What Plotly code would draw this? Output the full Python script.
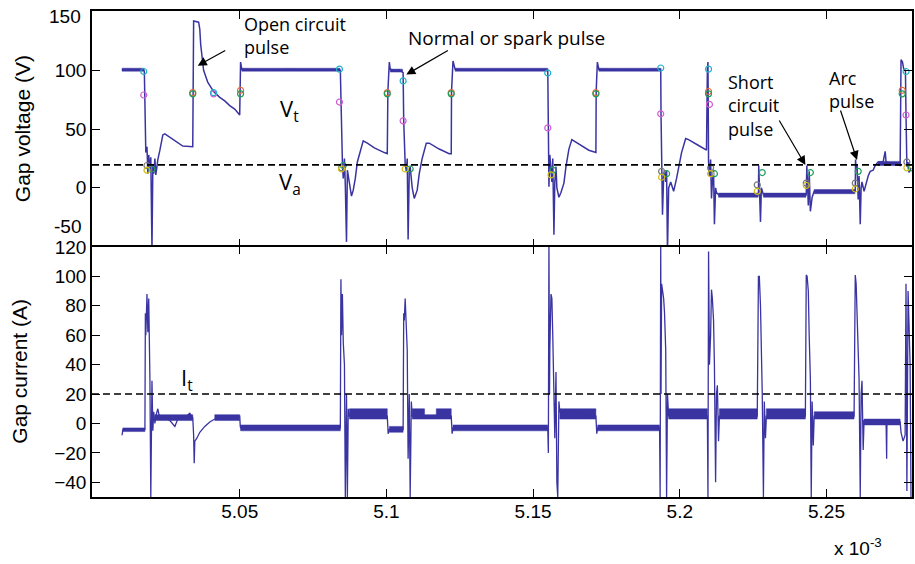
import plotly.graph_objects as go
from plotly.subplots import make_subplots

# time axis in units of 1e-3 s; samples stored as microseconds after 5.000 ms
T0_MS = 5.0

# ---------------- gap voltage (V) ----------------
v_t_us = [9.9, 12.6, 15.3, 17.3, 17.5, 17.7, 18.0, 18.4, 18.7, 19.0, 19.4, 19.7, 20.1, 20.4, 20.7, 21.1,
          21.4, 21.8, 22.1, 22.8, 23.8, 24.5, 26.2, 27.9, 29.6, 30.6, 34.0, 34.2, 34.3, 36.0, 36.4, 36.7,
          37.1, 37.4, 37.7, 38.4, 39.1, 40.1, 41.1, 43.2, 44.9, 46.6, 48.3, 50.0, 50.2, 50.3, 50.7, 53.4,
          60.2, 67.0, 73.8, 80.6, 84.0, 84.3, 84.5, 84.7, 85.0, 85.3, 85.7, 86.0, 86.4, 86.7, 87.0, 87.4,
          88.1, 88.7, 89.4, 90.1, 91.1, 92.1, 93.5, 95.9, 99.3, 100.3, 100.5, 101.0, 101.3, 102.7, 104.4,
          105.4, 105.7, 105.9, 106.1, 106.4, 106.8, 107.1, 107.4, 107.8, 108.1, 108.5, 108.8, 109.5, 110.5,
          111.2, 112.2, 113.6, 114.6, 118.0, 121.4, 122.1, 122.2, 122.7, 123.4, 128.2, 138.4, 148.6, 155.0,
          155.2, 155.4, 155.7, 156.1, 156.4, 156.7, 157.1, 157.4, 157.8, 158.1, 158.8, 159.5, 160.5, 161.2,
          162.2, 163.2, 165.6, 169.0, 171.4, 171.5, 171.9, 172.4, 179.2, 186.0, 193.1, 193.5, 193.6, 193.8,
          194.1, 194.5, 194.8, 195.2, 195.5, 195.8, 196.2, 196.9, 197.9, 198.9, 199.6, 200.6, 202.0, 203.0,
          206.4, 209.1, 209.4, 209.6, 209.8, 210.1, 210.5, 210.8, 211.1, 211.5, 211.8, 212.2, 212.5, 213.2,
          220.0, 226.8, 226.9, 227.1, 227.5, 227.8, 228.5, 235.3, 243.1, 243.3, 243.4, 243.8, 244.1, 244.5,
          245.1, 245.8, 252.3, 259.8, 259.9, 260.1, 260.4, 260.8, 261.1, 261.5, 261.8, 262.1, 262.8, 263.5,
          264.2, 264.9, 265.9, 266.6, 267.6, 269.3, 270.0, 270.3, 273.4, 275.1, 275.4, 275.9, 276.4, 276.9,
          277.1, 277.4, 277.8, 278.1, 278.8]
v_volt = [100.5, 100.8, 100.3, 100.5, 99, 78, 30, 35, 12, 28, 14, 26, -52, 20, 12, 25,
          11, 18, 24, 32, 45, 46, 43, 40, 37.5, 35.5, 35, 82, 142, 141, 135, 122,
          112, 106, 100, 95, 90, 86, 82, 77, 74, 70, 67, 62, 82, 107, 101, 100.5,
          100, 100.8, 100.2, 100.5, 100.5, 100, 72, 30, 22, 8, 25, 2, -46, 15, 10, 4,
          -7, -2, 8, 22, 31, 40, 38, 34, 30, 29, 82, 107, 101, 100, 100.5,
          98, 98, 57, 30, 20, 14, 25, -44, 15, 18, 8, 0, -9, -2,
          12, 25, 38, 38, 33, 29, 29, 82, 108, 101, 100, 100.5, 100, 100,
          51, 1, 28, 18, 5, 25, -40, 5, 18, 0, -8, -4, 4, 18,
          33, 41, 37, 32, 30, 82, 107, 101, 100, 100.5, 101, 101, 63, 20,
          -23, 10, 15, 5, 15, -55, 0, 5, -3, 8, 18, 30, 42, 41,
          36, 32, 101, 107, 22, 10, 24, -9, 5, 15, -31, 0, -4, -6,
          -6, -6, 19, 5, -29, 0, -6, -6, -6, 19, 5, -15, 14, -20,
          -8, -3, -3, -3, 24, 15, 20, -10, 10, -31, 0, 5, -3, 4,
          10, 14, 15, 19, 22, 22, 31, 22, 20, 19, 109, 107, 100, 100,
          62, 18, 22, 13, 17]

# noisy plateau bands of the voltage trace (start, end, low, high)
v_band_t0 = [9.9, 50.7, 101.3, 123.4, 172.4, 213.2, 228.5, 245.8, 267.6]
v_band_t1 = [17.3, 84.2, 105.5, 155.0, 193.4, 226.7, 243.0, 259.7, 275.1]
v_band_lo = [99.3, 99.3, 98.5, 99.3, 99.3, -8, -8, -5, 19]
v_band_hi = [101.8, 101.8, 101, 101.8, 101.8, -4.5, -4.5, -1.5, 22.5]

# ---------------- gap current (A) ----------------
i_t_us = [9.9, 10.2, 17.7, 17.85, 18.0, 18.4, 18.7, 19.0, 19.4, 19.7, 20.1, 20.4, 20.7, 21.1, 21.4, 22.1,
          22.8, 24.5, 26.2, 27.9, 28.9, 31.3, 33.0, 34.0, 34.3, 34.5, 34.7, 35.4, 36.4, 38.1, 39.8, 41.5,
          44.9, 50.0, 50.2, 50.3, 84.0, 84.3, 84.5, 84.7, 85.0, 85.3, 85.7, 86.0, 86.4, 86.7, 87.0, 87.4,
          100.3, 100.6, 101.0, 105.7, 105.9, 106.1, 106.4, 106.8, 107.1, 107.4, 107.8, 108.1, 108.5, 108.8,
          122.1, 122.4, 122.7, 155.0, 155.2, 155.4, 155.6, 155.7, 156.1, 156.4, 156.7, 157.1, 157.4, 157.8,
          158.1, 158.4, 158.8, 159.1, 171.4, 171.7, 172.0, 193.1, 193.3, 193.5, 193.6, 193.8, 194.5, 194.8,
          195.2, 195.5, 195.8, 196.2, 209.4, 209.6, 209.8, 210.1, 210.5, 210.8, 211.1, 211.5, 211.8, 212.2,
          212.5, 212.8, 213.2, 213.5, 226.4, 226.8, 227.1, 227.5, 227.8, 228.1, 228.5, 228.8, 229.2, 229.5,
          242.8, 243.1, 243.4, 243.8, 244.1, 244.5, 244.8, 245.1, 245.5, 245.8, 259.4, 259.8, 260.1, 260.4,
          260.8, 261.1, 261.5, 261.8, 262.1, 262.5, 262.8, 270.3, 270.5, 270.6, 275.1, 275.4, 276.1, 276.8,
          277.1, 277.4, 277.8, 278.1, 278.5, 278.8]
i_amp = [-8, -4, -4, 75, 60, 88, 62, 85, 30, -50, 29, -5, 8, 0, 5, 10,
         3, 4, 2, -2, 3, 4, 7, 4, -8, -27, -12, -10, -6, -2, 1, 3,
         4, 5, -2, -3, -3, -3, 98, 60, 88, 55, 40, -50, 20, -50, 10, 5,
         5, -7, -4, -4, 75, 70, 85, 60, 50, -24, 20, -50, 15, 5,
         5, -7, -3, -3, -20, 125, 20, 50, 88, 85, 60, 20, -10, 35,
         -40, -50, 15, 8, 5, -7, -3, -3, -50, 125, 20, 95, 85, 75,
         50, -50, 20, 5, 5, -50, 117, 40, 60, 91, 85, 70, 40, -40,
         20, 26, -12, 5, 5, 100, 100, 80, 50, 20, -50, 15, -10, 5,
         5, 101, 100, 90, 60, 30, -50, 15, -15, 5, 5, 101, 95, 70,
         50, 30, -50, 20, 29, -18, 2, 2, -24, 1, 1, -6, -12, -8,
         95, -46, 90, 60, 40, -50]

# noisy plateau bands of the current trace (start, end, low, high)
i_band_t0 = [10.2, 21.1, 41.5, 50.3, 87.4, 101.0, 108.8, 113.0, 117.0, 122.7, 159.1, 172.0, 196.2, 213.5, 229.5, 245.8, 262.8]
i_band_t1 = [17.7, 34.0, 50.0, 84.3, 100.3, 105.7, 113.0, 117.0, 122.1, 155.0, 171.4, 193.1, 209.4, 226.4, 242.8, 259.4, 275.1]
i_band_lo = [-5.5, 2, 2, -5, 3, -6, 3, 3, 3, -5, 3, -5, 3, 3, 3, 3, -1]
i_band_hi = [-3, 6, 6, -1, 10, -2, 10, 6, 10, -1, 10, -1, 10, 10, 10, 8, 3]

# detection markers on the voltage trace (time in us after 5 ms, voltage)
cyan_t = [17.3, 41.1, 84.0, 105.7, 155.0, 193.5, 209.8, 277.1]
cyan_v = [99, 81, 101, 91, 97.7, 102, 101, 99]
magenta_t = [17.3, 41.1, 84.0, 105.7, 155.0, 193.5, 210.1, 277.1]
magenta_v = [79, 80, 73, 57, 51, 63, 71, 62]
orange_t = [34.0, 50.3, 100.3, 122.1, 171.4, 209.8, 275.8]
orange_v = [81, 83, 81, 81, 81, 82, 83]
green_t = [34.0, 50.3, 100.3, 122.1, 171.4, 209.8, 275.8,
           20.1, 85.3, 108.1, 156.7, 195.5, 211.8, 228.1, 244.5, 260.8, 278.8]
green_v = [80, 80, 80, 80, 80, 80, 80,
           16, 19, 16, 15, 12, 12, 13, 13, 14, 17]
yellow_t = [18.4, 84.7, 106.4, 156.1, 193.8, 210.5, 226.4, 243.1, 259.8, 277.4]
yellow_v = [15, 16, 16, 11, 9, 12, -3, 2, -1, 17]
gray_t = [18.4, 84.7, 193.8, 210.5, 226.4, 243.1, 259.8, 277.4]
gray_v = [19, 17, 14, 17, 2.5, 4, 4, 22]

va_level = 19.5
it_level = 20

x_ticks = [5.05, 5.1, 5.15, 5.2, 5.25]
x_tick_text = ["5.05", "5.1", "5.15", "5.2", "5.25"]
v_ticks = [-50, 0, 50, 100, 150]
i_ticks = [-40, -20, 0, 20, 40, 60, 80, 100, 120]

LINE = "#3a34a2"
AXFONT = dict(family="Liberation Sans, Arial, sans-serif", size=19, color="black")
ANFONT = "Open Sans, Noto Sans, sans-serif"


def ms(us_list):
    return [T0_MS + u / 1000.0 for u in us_list]


def band_polys(t0, t1, lo, hi):
    xs, ys = [], []
    for a, b, l, h in zip(t0, t1, lo, hi):
        xa, xb = T0_MS + a / 1000.0, T0_MS + b / 1000.0
        xs += [xa, xb, xb, xa, xa, None]
        ys += [l, l, h, h, l, None]
    return xs, ys


fig = make_subplots(rows=2, cols=1, shared_xaxes=True, vertical_spacing=0,
                    row_heights=[0.4847, 0.5153])

bx, by = band_polys(v_band_t0, v_band_t1, v_band_lo, v_band_hi)
fig.add_trace(go.Scatter(x=bx, y=by, mode="lines", fill="toself", fillcolor=LINE,
                         line=dict(color=LINE, width=0.5), hoverinfo="skip"), row=1, col=1)
fig.add_trace(go.Scatter(x=ms(v_t_us), y=v_volt, mode="lines",
                         line=dict(color=LINE, width=1.5)), row=1, col=1)

bx, by = band_polys(i_band_t0, i_band_t1, i_band_lo, i_band_hi)
fig.add_trace(go.Scatter(x=bx, y=by, mode="lines", fill="toself", fillcolor=LINE,
                         line=dict(color=LINE, width=0.5), hoverinfo="skip"), row=2, col=1)
fig.add_trace(go.Scatter(x=ms(i_t_us), y=i_amp, mode="lines",
                         line=dict(color=LINE, width=1.3)), row=2, col=1)

for tt, vv, col in [(magenta_t, magenta_v, "#d35cd3"), (cyan_t, cyan_v, "#1fb3c8"),
                    (orange_t, orange_v, "#ea6a35"), (green_t, green_v, "#1f9e5a"),
                    (gray_t, gray_v, "#777777"), (yellow_t, yellow_v, "#d2bd10")]:
    fig.add_trace(go.Scatter(x=ms(tt), y=vv, mode="markers",
                             marker=dict(symbol="circle-open", size=6, color=col,
                                         line=dict(width=1.2, color=col))), row=1, col=1)

# empty trace that only carries the upward tick marks on the shared boundary
fig.add_trace(go.Scatter(x=[], y=[], xaxis="x3", yaxis="y", showlegend=False))

fig.add_hline(y=va_level, line=dict(color="black", width=1.6, dash="7px,4px"), row=1, col=1)
fig.add_hline(y=it_level, line=dict(color="black", width=1.6, dash="7px,4px"), row=2, col=1)

xr = [T0_MS - 0.00034, T0_MS + 0.27914]
axis_common = dict(showline=True, linecolor="black", linewidth=1.5, mirror="ticks",
                   ticks="inside", ticklen=8, tickwidth=1.3, tickcolor="black",
                   showgrid=False, zeroline=False, tickfont=AXFONT)

fig.update_xaxes(range=xr, tickvals=x_ticks, ticktext=x_tick_text, **axis_common)
fig.update_xaxes(ticklabelstandoff=-4, row=2, col=1)
fig.update_xaxes(showticklabels=False, side="top", mirror=False, row=1, col=1)
fig.update_yaxes(range=[-50, 150.5], tickvals=v_ticks, ticktext=["", "0", "50", "100", ""],
                 row=1, col=1, **axis_common)
fig.update_yaxes(range=[-50, 120.3], tickvals=i_ticks, row=2, col=1, **axis_common)
fig.update_layout(
    yaxis=dict(domain=[0.5153, 1.0]), yaxis2=dict(domain=[0.0, 0.5153]),
    xaxis3=dict(overlaying="x", anchor="y", side="bottom", range=xr, tickvals=x_ticks,
                showticklabels=False, showline=False, ticks="inside", ticklen=8,
                tickwidth=1.3, tickcolor="black", showgrid=False, zeroline=False),
)


def pa(text, x, y, size, xanchor="center", yanchor="middle", family=ANFONT, angle=0, align="left"):
    fig.add_annotation(text=text, xref="paper", yref="paper", x=x, y=y, showarrow=False,
                       xanchor=xanchor, yanchor=yanchor, textangle=angle, align=align,
                       font=dict(family=family, size=size, color="black"))


AX = "Liberation Sans, Arial, sans-serif"
pa("150", -0.0110, 0.9877, 19, xanchor="right", family=AX)
pa("-50", -0.0110, 0.5570, 19, xanchor="right", family=AX)
pa("Gap voltage (V)", -0.0853, 0.757, 21, family=AX, angle=-90)
pa("Gap current (A)", -0.0877, 0.258, 21, family=AX, angle=-90)
pa("x 10<sup>-3</sup>", 0.934, -0.102, 19, family=AX)

pa("Open circuit<br>pulse", 0.1825, 0.9500, 18, xanchor="left")
pa("Normal or spark pulse", 0.3832, 0.9448, 19, xanchor="left")
pa("Short<br>circuit<br>pulse", 0.7737, 0.8057, 18, xanchor="left")
pa("Arc<br>pulse", 0.8966, 0.8390, 18, xanchor="left")
pa("V<sub>t</sub>", 0.2409, 0.7955, 22)
pa("V<sub>a</sub>", 0.2409, 0.6462, 22)
pa("I<sub>t</sub>", 0.1156, 0.2434, 22)

for hx, hy, ax, ay in [(5.0357, 104, 29, -16), (5.1068, 96.4, 43, -25),
                       (5.2428, 19.4, -27, -46), (5.2604, 23.7, -17, -51)]:
    fig.add_annotation(x=hx, y=hy, xref="x", yref="y", text="", showarrow=True,
                       ax=ax, ay=ay, arrowhead=2, arrowsize=1.5, arrowwidth=1.2,
                       arrowcolor="black", standoff=0)

fig.update_layout(width=915, height=564, margin=dict(l=92, r=1, t=8, b=67),
                  plot_bgcolor="white", paper_bgcolor="white", showlegend=False)

fig.write_html("out.html")
